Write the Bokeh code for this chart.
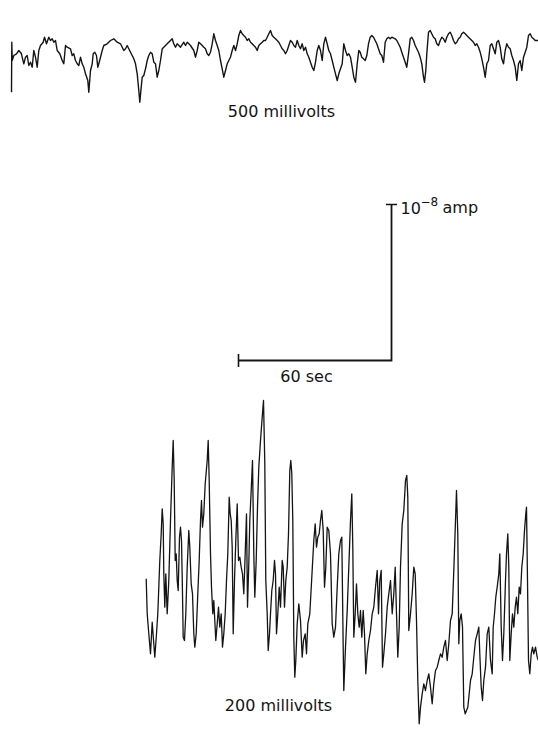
from bokeh.plotting import figure
from bokeh.models import Range1d, Label
from bokeh.embed import file_html
from bokeh.resources import INLINE

# ---------------- data (time in chart units, signal as deflection) -------------
top_t = [
    11.0, 11.3, 11.7, 13.3, 16.0, 18.3, 20.7, 23.3, 25.0, 26.7,
    28.3, 30.0, 31.7, 33.3, 35.0, 36.7, 38.3, 40.0, 42.7, 44.0,
    46.0, 48.3, 50.0, 51.7, 53.3, 55.0, 56.7, 59.3, 61.7, 63.3,
    65.0, 66.7, 70.0, 71.7, 73.3, 75.0, 76.7, 78.3, 80.0, 81.7,
    83.3, 85.0, 87.3, 88.3, 90.0, 91.7, 92.7, 94.3, 96.0, 97.3,
    98.7, 100.0, 101.7, 103.3, 106.7, 110.0, 113.3, 116.7, 120.0, 121.7,
    123.3, 125.0, 126.7, 128.3, 130.0, 131.7, 133.3, 135.0, 136.7, 138.3,
    139.3, 140.7, 141.7, 143.3, 145.0, 146.7, 148.3, 150.0, 151.7, 153.3,
    155.0, 156.7, 158.3, 160.0, 161.7, 163.3, 165.0, 166.7, 170.0, 171.7,
    173.3, 175.0, 176.7, 180.0,
    183.3, 185.0, 186.7, 188.3, 190.0, 193.3, 195.0, 196.7, 198.3, 200.0,
    201.7, 203.3, 205.0, 206.7, 208.3, 210.0, 211.7, 213.3, 215.0, 216.7,
    218.3, 220.0, 221.7, 223.3, 225.0, 226.7, 228.3, 230.0, 231.7, 233.3,
    235.0, 236.7, 238.3, 240.0, 241.7, 243.3, 245.0, 246.7, 248.3, 250.0,
    251.7, 253.3, 255.0, 256.7, 258.3, 260.0, 261.7, 263.3, 265.0, 266.7,
    268.3, 270.0, 271.7, 273.3, 275.0, 276.7, 278.3, 280.0, 281.7, 283.3,
    285.0, 286.7, 288.3, 290.0, 291.7, 293.3, 295.0, 296.7, 298.3, 300.0,
    301.7, 303.3, 305.0, 306.7, 308.3, 310.0, 311.7, 313.3, 315.0, 316.7,
    318.3, 320.0, 321.7, 323.3, 325.0, 326.7, 328.3, 330.0, 331.7, 333.3,
    335.0, 336.7, 338.3, 340.0, 341.7, 343.3, 345.0, 346.7, 348.3, 350.0,
    351.7, 353.3, 355.0, 356.7, 358.3,
    359.7, 361.3, 363.0, 364.7, 366.3, 368.0, 369.7, 371.3, 373.0, 374.7,
    376.3, 378.0, 379.7, 381.3, 383.0, 384.7, 386.3, 388.0, 389.7, 391.3,
    394.7, 396.3, 398.0, 399.7, 401.3, 403.0, 404.7, 406.3, 408.0, 409.7,
    411.3, 413.0, 414.7, 416.3, 418.0, 419.7, 421.3, 423.0, 424.0, 425.3,
    426.3, 428.0, 429.7, 431.3, 433.0, 434.7, 436.3, 438.0, 439.7, 441.3,
    443.0, 444.7, 446.3, 448.0, 449.7, 451.3, 453.0, 454.7, 456.3, 458.0,
    459.7, 461.3, 463.0, 464.7, 466.3, 468.0, 471.3, 473.0, 474.7, 476.3,
    478.0, 479.7, 481.3, 483.0, 484.7, 486.3, 488.0, 489.7, 491.3, 493.0,
    494.7, 496.3, 498.0, 499.7, 501.3, 503.0, 504.7, 506.3, 508.0, 509.7,
    511.3, 513.0, 514.7, 516.3, 518.0, 519.7, 521.3, 523.0, 524.7, 526.3,
    528.0, 529.7, 531.3, 533.0, 534.7, 538.0,
]
top_v = [
    8.3, 58.3, 40.0, 45.0, 46.7, 50.0, 47.3, 36.7, 43.3, 45.0,
    35.0, 38.3, 33.3, 50.0, 43.3, 33.3, 50.0, 55.0, 58.3, 63.3,
    56.7, 63.3, 60.0, 61.7, 58.3, 60.0, 50.0, 46.7, 40.0, 36.7,
    55.0, 53.3, 51.7, 45.0, 46.7, 40.0, 36.7, 35.0, 43.3, 36.7,
    33.3, 26.7, 20.0, 8.3, 30.0, 36.7, 46.7, 48.3, 45.0, 33.3,
    38.3, 43.3, 50.0, 55.0, 56.7, 60.0, 61.7, 58.3, 56.7, 53.3,
    50.0, 51.7, 55.0, 51.7, 48.3, 45.0, 41.7, 36.7, 26.7, 10.0,
    -1.7, 13.3, 23.3, 25.0, 31.7, 40.0, 45.0, 48.3, 46.7, 38.3,
    36.7, 23.3, 30.0, 40.0, 51.7, 53.3, 55.0, 56.7, 60.0, 61.7,
    56.7, 53.3, 56.7, 53.3,
    58.3, 55.0, 58.3, 56.7, 55.0, 50.0, 43.3, 50.0, 58.3, 56.7,
    55.0, 53.3, 51.7, 46.7, 45.0, 48.3, 56.7, 66.7, 60.0, 55.0,
    50.0, 40.0, 31.7, 23.3, 30.0, 36.7, 40.0, 43.3, 50.0, 55.0,
    50.0, 56.7, 65.0, 70.0, 66.7, 65.0, 63.3, 60.0, 61.7, 58.3,
    56.7, 55.0, 53.3, 50.0, 55.0, 56.7, 58.3, 60.0, 60.0, 63.3,
    66.7, 70.0, 65.0, 63.3, 61.7, 60.0, 58.3, 55.0, 51.7, 50.0,
    46.7, 50.0, 55.0, 60.0, 58.3, 55.0, 53.3, 60.0, 55.0, 51.7,
    56.7, 50.0, 53.3, 46.7, 43.3, 38.3, 33.3, 30.0, 38.3, 50.0,
    55.0, 50.0, 40.0, 56.7, 63.3, 56.7, 50.0, 46.7, 40.0, 33.3,
    26.7, 20.0, 26.7, 31.7, 36.7, 56.7, 50.0, 45.0, 46.7, 43.3,
    33.3, 23.3, 18.3, 36.7, 50.0,
    48.3, 43.3, 41.7, 40.0, 45.0, 56.7, 63.3, 65.0, 63.3, 60.0,
    56.7, 51.7, 46.7, 45.0, 38.3, 58.3, 61.7, 63.3, 61.7, 63.3,
    61.7, 60.0, 56.7, 53.3, 48.3, 43.3, 38.3, 33.3, 46.7, 61.7,
    63.3, 60.0, 55.0, 51.7, 48.3, 43.3, 36.7, 23.3, 18.3, 30.0,
    46.7, 68.3, 70.0, 66.7, 63.3, 61.7, 56.7, 55.0, 60.0, 63.3,
    61.7, 58.3, 63.3, 66.7, 68.3, 65.0, 60.0, 56.7, 58.3, 61.7,
    63.3, 66.7, 68.3, 66.7, 65.0, 63.3, 60.0, 58.3, 55.0, 56.7,
    53.3, 48.3, 41.7, 33.3, 23.3, 36.7, 40.0, 55.0, 56.7, 51.7,
    46.7, 58.3, 60.0, 53.3, 41.7, 36.7, 50.0, 56.7, 53.3, 51.7,
    45.0, 40.0, 33.3, 20.0, 36.7, 40.0, 30.0, 43.3, 48.3, 53.3,
    65.0, 66.7, 63.3, 61.7, 60.0, 60.0,
]

bot_t = [
    145.7, 146.7, 148.3, 150.0, 151.7, 153.3, 154.3, 156.0, 157.3, 159.3,
    160.7, 161.7, 162.7, 163.3, 164.3, 165.3, 166.7, 168.3, 170.0, 171.7,
    172.7, 173.7, 174.7, 175.7, 176.7, 177.7, 179.0, 180.0, 181.0, 182.0,
    182.7, 184.0, 185.3, 186.7, 188.3, 189.3, 190.7, 192.0, 193.3, 194.3,
    195.7, 197.3, 198.7, 200.0, 201.0, 202.0, 203.3, 204.7, 206.7, 207.7,
    208.7, 210.0, 211.0, 212.3, 213.3, 214.3, 215.3, 216.7, 218.0, 219.3,
    220.7, 222.0, 223.3, 224.7, 226.0, 227.3, 228.7, 229.7, 230.7, 231.7,
    232.7, 234.0, 235.3, 236.7, 238.0, 239.3, 240.7, 242.0, 243.3, 244.7,
    246.0, 247.0, 248.3, 249.3, 250.7, 252.0, 253.3, 254.3, 255.7, 257.0,
    258.3, 260.0, 261.7, 263.0, 264.3, 265.3, 266.7, 267.7, 269.0, 270.0,
    271.3, 272.7, 274.0, 275.0, 276.0, 277.3, 278.7, 280.0, 281.7, 282.7,
    284.0, 285.3, 286.7, 288.0, 289.3, 290.3, 291.3, 292.3, 293.3, 294.3,
    295.3, 296.7, 298.3, 300.0, 301.7, 303.0, 304.7, 306.0, 307.3, 309.3,
    311.3, 313.3, 314.7, 316.0, 317.3, 318.7, 320.0, 321.3,
    322.7, 324.0, 325.3, 326.7, 328.3, 330.0, 331.7, 333.3, 335.0, 336.7,
    338.3, 340.0, 341.3, 342.7, 343.3, 345.0, 346.7, 348.3, 350.0, 351.3,
    352.3, 353.3, 354.7, 356.0, 357.3, 358.7, 360.0, 361.3, 362.7, 364.0,
    365.3, 366.7, 368.3, 370.0, 371.7, 373.3, 375.0, 376.7, 378.0, 379.3,
    380.7, 382.0, 383.3, 385.0, 386.7, 388.3, 390.0, 391.7, 393.3, 394.7,
    396.0, 397.3, 398.7, 400.0, 401.7, 403.3, 405.0, 406.3, 407.3, 408.3,
    410.0, 411.7, 413.3, 414.7, 416.0, 417.3, 418.7, 420.0, 421.7, 423.3,
    425.0, 426.7, 428.3, 430.0, 431.7, 433.3, 435.0, 436.7, 438.3, 440.0,
    441.7, 443.3, 445.0, 446.7, 448.3, 450.0, 451.7, 453.3, 455.0, 456.0,
    457.3, 458.3, 459.3, 460.7, 462.0, 463.3, 464.7, 466.0, 467.3, 468.7,
    470.0, 471.7, 473.3, 475.0, 476.7, 478.3, 479.3, 480.7, 482.0, 483.3,
    485.0, 486.7, 488.3, 490.0, 491.7, 492.7, 494.0, 495.3, 496.7, 498.3,
    499.3, 500.7, 502.0, 503.3, 505.0, 506.0, 507.3, 508.3, 509.3, 510.7,
    512.0, 513.3, 514.7, 516.0, 517.3, 518.7, 520.0, 521.3, 522.7, 524.0,
    525.3, 526.0, 527.0, 528.0, 529.3, 530.7, 532.0, 533.3, 535.0, 536.7, 538.0,
]
bot_v = [
    161.7, 126.7, 106.7, 86.7, 118.3, 96.7, 83.3, 106.7, 126.7, 180.0,
    206.7, 231.7, 216.7, 166.7, 133.3, 166.7, 126.7, 160.0, 220.0, 273.3,
    300.0, 260.0, 180.0, 186.7, 160.0, 150.0, 203.3, 213.3, 200.0, 146.7,
    103.3, 100.0, 126.7, 173.3, 210.0, 193.3, 156.7, 146.7, 106.7, 93.3,
    106.7, 146.7, 180.0, 220.0, 240.0, 213.3, 226.7, 256.7, 280.0, 300.0,
    260.0, 186.7, 153.3, 126.7, 140.0, 120.0, 100.0, 116.7, 133.3, 113.3,
    126.7, 93.3, 106.7, 126.7, 160.0, 186.7, 243.3, 226.7, 220.0, 193.3,
    106.7, 160.0, 200.0, 236.7, 180.0, 183.3, 173.3, 166.7, 146.7, 186.7,
    226.7, 133.3, 176.7, 220.0, 250.0, 280.0, 186.7, 143.3, 180.0, 233.3,
    273.3, 300.0, 323.3, 340.0, 276.7, 160.0, 126.7, 90.0, 106.7, 126.7,
    150.0, 160.0, 180.0, 166.7, 106.7, 126.7, 153.3, 133.3, 180.0, 173.3,
    133.3, 160.0, 173.3, 206.7, 270.0, 280.0, 266.7, 220.0, 103.3, 63.3,
    80.0, 116.7, 136.7, 120.0, 83.3, 100.0, 106.7, 86.7, 116.7, 126.7,
    163.3, 200.0, 216.7, 193.3, 203.3, 206.7, 220.0, 230.0,
    210.0, 153.3, 173.3, 213.3, 210.0, 186.7, 116.7, 103.3, 113.3, 153.3,
    186.7, 200.0, 203.3, 93.3, 50.0, 93.3, 130.0, 173.3, 220.0, 246.7,
    193.3, 103.3, 126.7, 156.7, 126.7, 113.3, 130.0, 103.3, 130.0, 106.7,
    66.7, 86.7, 100.0, 110.0, 126.7, 133.3, 153.3, 170.0, 126.7, 160.0,
    170.0, 73.3, 86.7, 106.7, 133.3, 146.7, 160.0, 126.7, 146.7, 173.3,
    126.7, 83.3, 113.3, 173.3, 216.7, 230.0, 260.0, 265.0, 243.3, 110.0,
    126.7, 146.7, 173.3, 166.7, 120.0, 60.0, 16.7, 33.3, 46.7, 56.7,
    50.0, 60.0, 66.7, 53.3, 36.7, 56.7, 70.0, 73.3, 80.0, 86.7,
    83.3, 93.3, 100.0, 80.0, 96.7, 120.0, 126.7, 170.0, 220.0, 250.0,
    206.7, 96.7, 120.0, 126.7, 113.3, 33.3, 26.7, 30.0, 33.3, 46.7,
    60.0, 66.7, 83.3, 100.0, 106.7, 113.3, 86.7, 53.3, 40.0, 60.0,
    73.3, 106.7, 113.3, 80.0, 66.7, 113.3, 126.7, 143.3, 153.3, 166.7,
    186.7, 113.3, 80.0, 106.7, 160.0, 186.7, 206.7, 173.3, 80.0, 106.7,
    126.7, 113.3, 133.3, 143.3, 126.7, 153.3, 146.7, 173.3, 186.7, 210.0,
    226.7, 233.3, 160.0, 80.0, 66.7, 86.7, 93.3, 86.7, 93.3, 83.3, 80.0,
]

labels = ["500 millivolts", "200 millivolts", "60 sec"]
amp_label = ["10", "−8", "amp"]
scale_seconds = 60          # horizontal calibration bar
units_per_second = 2.55     # chart units per second
amp_bar_units = 156         # vertical calibration bar (10^-8 A)

# ---------------- figure -------------------------------------------------------
INK = "#141414"
p = figure(width=538, height=751, x_range=Range1d(0, 538), y_range=Range1d(751, 0),
           output_backend="svg", toolbar_location=None, min_border=0,
           x_axis_location=None, y_axis_location=None, outline_line_color=None,
           background_fill_color="white", border_fill_color="white")
p.grid.visible = False
p.extra_y_ranges = {"top": Range1d(-651, 100), "bottom": Range1d(-11, 740)}

p.line(top_t, top_v, y_range_name="top", line_color=INK, line_width=1.4,
       line_join="round")
p.line(bot_t, bot_v, y_range_name="bottom", line_color=INK, line_width=1.3,
       line_join="round")

# calibration bars
bx0, by0 = 238, 360
bx1 = bx0 + scale_seconds * units_per_second
by1 = by0 - amp_bar_units
p.line([bx0, bx1, bx1], [by0, by0, by1], line_color=INK, line_width=1.8,
       line_join="miter")
p.segment(x0=[bx0, bx1 - 5.5], y0=[by0 - 6.5, by1], x1=[bx0, bx1 + 5.5],
          y1=[by0 + 6.5, by1], line_color=INK, line_width=1.6)

font = "DejaVu Sans"
def lab(x, y, text, size="16px", align="center", baseline="middle"):
    p.add_layout(Label(x=x, y=y, text=text, text_align=align,
                       text_baseline=baseline, text_font=font,
                       text_font_size=size, text_color=INK))

lab(281, 111, labels[0])
lab(278, 705, labels[1])
lab(306, 376, labels[2])
lab(400, 207, amp_label[0], align="left", baseline="alphabetic")
lab(420, 201, amp_label[1], size="12px", align="left", baseline="alphabetic")
lab(442, 207, amp_label[2], align="left", baseline="alphabetic")

open("out.html", "w").write(file_html(p, INLINE))
